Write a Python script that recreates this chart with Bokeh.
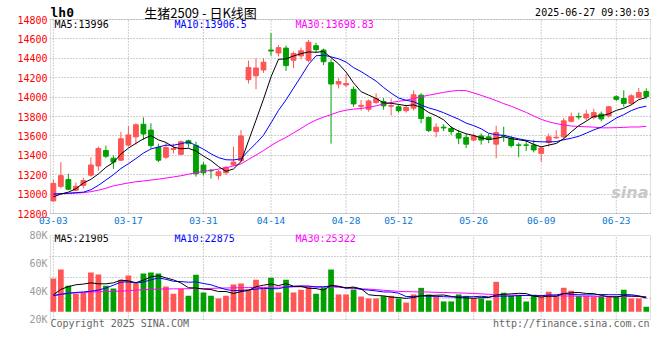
from bokeh.plotting import figure
from bokeh.layouts import column
from bokeh.models import Range1d, FixedTicker, Label, ColumnDataSource, BoxAnnotation
from bokeh.embed import file_html
from bokeh.resources import INLINE

DATES = ["03-03","03-04","03-05","03-06","03-07","03-10","03-11","03-12","03-13","03-14",
         "03-17","03-18","03-19","03-20","03-21","03-24","03-25","03-26","03-27","03-28",
         "03-31","04-01","04-02","04-03","04-07","04-08","04-09","04-10","04-11","04-14",
         "04-15","04-16","04-17","04-18","04-21","04-22","04-23","04-24","04-25","04-28",
         "04-29","04-30","05-06","05-07","05-08","05-09","05-12","05-13","05-14","05-15",
         "05-16","05-19","05-20","05-21","05-22","05-23","05-26","05-27","05-28","05-29",
         "05-30","06-03","06-04","06-05","06-06","06-09","06-10","06-11","06-12","06-13",
         "06-16","06-17","06-18","06-19","06-20","06-23","06-24","06-25","06-26","06-27"]

OPEN = [12930,13080,13150,13040,13090,13195,13290,13450,13370,13350,
        13505,13590,13720,13660,13480,13380,13460,13410,13550,13500,
        13300,13245,13190,13220,13300,13345,14180,14220,14280,14485,
        14455,14505,14380,14425,14380,14530,14485,14355,14135,14125,
        14080,13905,13875,13945,13955,13905,13900,13860,13886,14020,
        13790,13645,13690,13676,13625,13585,13557,13600,13590,13515,
        13605,13577,13507,13507,13505,13420,13532,13580,13590,13750,
        13800,13785,13790,13825,13807,14003,13985,13935,13996,14058]
HIGH = [13150,13330,13210,13120,13170,13380,13490,13500,13400,13640,
        13700,13730,13790,13730,13520,13530,13520,13550,13560,13540,
        13330,13260,13250,13290,13490,13660,14375,14400,14400,14660,
        14535,14530,14470,14510,14590,14560,14500,14390,14196,14235,
        14110,13970,13975,14040,13990,13985,13930,13920,14070,14040,
        13800,13730,13720,13700,13660,13620,13625,13625,13620,13705,
        13695,13600,13530,13560,13560,13495,13625,13660,13785,13840,
        13840,13870,13880,13850,13910,14020,14070,14030,14093,14090]
LOW = [12920,13060,13040,13030,13060,13180,13240,13370,13260,13340,
       13490,13510,13560,13470,13330,13360,13420,13400,13480,13180,
       13190,13160,13150,13200,13290,13330,14140,14080,14250,14425,
       14420,14270,14300,14390,14360,14460,14330,13520,14089,14105,
       13900,13860,13850,13930,13870,13810,13840,13840,13860,13730,
       13640,13585,13650,13610,13515,13475,13545,13510,13525,13370,
       13540,13480,13380,13445,13430,13335,13490,13570,13570,13740,
       13770,13760,13770,13750,13790,13960,13900,13920,13985,13985]
CLOSE = [13110,13190,13050,13080,13140,13300,13470,13390,13330,13570,
         13610,13715,13620,13500,13350,13480,13470,13540,13520,13210,
         13220,13240,13230,13275,13330,13600,14305,14300,14360,14475,
         14510,14325,14450,14478,14565,14490,14365,14135,14160,14140,
         13930,13915,13960,13985,13910,13912,13860,13893,14024,13780,
         13655,13690,13682,13645,13577,13515,13600,13557,13565,13635,
         13598,13500,13503,13503,13455,13475,13590,13586,13755,13797,
         13795,13825,13840,13775,13900,13977,13935,14013,14047,14006]

MA5 = [12972,13000,13020,13055,
       13114,13152,13208,13276,13326,13412,13474,13523,13569,13603,
       13559,13533,13484,13468,13472,13444,13392,13346,13284,13235,
       13259,13335,13548,13762,13979,14208,14390,14394,14424,14448,
       14466,14462,14470,14407,14343,14258,14146,14056,14021,13986,
       13940,13936,13925,13912,13920,13894,13842,13808,13766,13690,
       13650,13622,13604,13579,13563,13574,13591,13571,13560,13548,
       13512,13487,13505,13522,13572,13641,13705,13752,13802,13806,
       13827,13863,13885,13920,13974,13996]
MA10 = [13000,13005,13010,13015,13020,13045,13090,13145,13200,
        13263,13313,13366,13423,13465,13486,13504,13504,13519,13538,
        13502,13463,13415,13376,13354,13352,13364,13447,13523,13607,
        13734,13863,13971,14093,14213,14337,14426,14432,14415,14395,
        14362,14304,14263,14214,14165,14099,14041,13991,13967,13953,
        13917,13889,13867,13839,13805,13772,13732,13706,13673,13627,
        13612,13606,13587,13570,13555,13543,13539,13538,13541,13560,
        13576,13596,13628,13662,13689,13734,13784,13819,13861,13890,
        13906.5]
MA30 = [13000,13003,13006,13010,13015,13025,13040,13060,13085,13100,
        13115,13127,13135,13145,13154,13165,13177,13189,13205,13220,
        13235,13246,13257,13272,13290,13312,13357,13402,13449,
        13499,13546,13584,13631,13677,13725,13764,13794,13819,13847,
        13866,13876,13883,13894,13910,13929,13944,13957,13968,13985,
        14004,14019,14034,14049,14061,14069,14066,14043,14018,13992,
        13964,13933,13906,13874,13842,13805,13771,13745,13727,13713,
        13702,13697,13694,13690,13683,13683,13685,13688,13692,13692,
        13698.83]

VOLUME = [49300,55700,44100,38400,39100,53600,52100,44100,42100,48400,
          51400,45500,52900,53600,52900,43600,38400,41900,36900,51900,
          39300,36900,35000,36900,45000,45700,41200,48400,42100,49800,
          39300,48400,39300,41200,43400,38400,42900,55700,37900,37900,
          41400,36400,35000,35000,36700,36900,35000,32100,37900,42600,
          37900,36200,32900,32900,37900,36900,35300,35000,33600,46900,
          39100,36900,36900,32900,37600,36000,39800,36700,42600,40500,
          36700,36700,36000,36000,36000,36000,41200,35000,35000,29100]
VOL_MA5 = [37600,41500,43500,44800,
           45300,46200,45500,45500,46200,48100,47600,46300,48100,50400,
           51300,49700,48300,46100,42700,42500,41700,41400,40000,40000,
           38600,39900,40800,43400,44500,45400,44200,45600,43800,43600,
           42300,42100,41000,44300,43700,42600,43200,41900,37700,37100,
           36900,36000,35700,35100,35700,36900,37100,37300,37500,36500,
           35600,35400,35200,35600,35700,37500,38000,38300,38700,38500,
           36700,36100,36600,36600,38500,39100,39300,38600,38500,37200,
           36300,36100,37000,36800,36600,35300]
VOL_MA10 = [37000,38000,38800,39300,39700,40200,41000,42500,44500,
            46700,46900,45900,46800,48300,49700,48700,47300,47100,46600,
            46900,45700,44800,43000,41400,40600,40800,41100,41700,42200,
            42000,42000,43200,43600,44000,43900,43200,43300,44100,43600,
            42400,42700,41500,41000,40400,39700,39600,38800,36400,36400,
            36900,36600,36500,36300,36100,36200,36200,36300,36600,36100,
            36600,36700,36700,37100,37100,37100,37000,37500,37600,38500,
            37900,37700,37600,37600,37900,37700,37700,37800,37700,36900,
            35800]
VOL_MA30 = [37100,38000,38600,39000,39300,39600,39800,40000,40200,40300,
            40500,40900,41300,41600,41700,41800,41900,41900,42000,42100,
            42100,42200,42400,42500,42600,42700,42800,42800,42900,43000,
            43100,43200,43300,43400,43400,43400,43400,43300,43000,42600,
            42100,41900,41700,41300,40900,40500,40100,39900,39800,39700,
            39600,39400,39300,39100,39000,38800,38600,38300,38000,37700,
            37500,37400,37300,37200,37100,37000,36900,36900,36800,36700,
            36700,36600,36500,36400,36400,36400,36400,36400,36400,36400]

TICK_DATES = ["03-03","03-17","03-31","04-14","04-28","05-12","05-26","06-09","06-23"]
PRICE_TICKS = [12800,13000,13200,13400,13600,13800,14000,14200,14400,14600,14800]
VOL_TICKS = [20000,40000,60000,80000]
VOL_TICK_LABELS = ["20K","40K","60K","80K"]
VOL_LEGEND = ["MA5:21905", "MA10:22875", "MA30:25322"]

RED = "#ff5555"
GREEN = "#00a000"
GRID = "#a0a0a0"
BORDER = "#999999"
MONO = "DejaVu Sans Mono"

n = len(DATES)
xs = list(range(n))
colors = [RED if c >= o else GREEN for o, c in zip(OPEN, CLOSE)]
src = ColumnDataSource(dict(
    x=xs, high=HIGH, low=LOW,
    top=[max(o, c) for o, c in zip(OPEN, CLOSE)],
    bottom=[min(o, c) for o, c in zip(OPEN, CLOSE)],
    color=colors, vol=VOLUME, ma5=MA5, ma10=MA10, ma30=MA30,
    vma5=VOL_MA5, vma10=VOL_MA10, vma30=VOL_MA30))
tick_idx = [DATES.index(d) for d in TICK_DATES]

# ---- layout geometry (pixels) ----
W = 658
PANEL_W = 600                      # width of each boxed panel
X_LEFT, X_RIGHT = -0.38, n - 1 + 0.56
DX = (X_RIGHT - X_LEFT) / PANEL_W  # data units per pixel
# frames are 1 px larger than the boxed panels so that the box lines are not clipped
xr = Range1d(X_LEFT - DX, X_RIGHT + DX)
LEFT, RIGHT = 49, W - 49 - PANEL_W - 2

PRICE_PX = 194                     # box height of price panel
DP = (PRICE_TICKS[-1] - PRICE_TICKS[0]) / PRICE_PX
P1_FRAME = 214                     # frame: 19 px header above the box, 1 px below
p1_range = Range1d(PRICE_TICKS[0] - DP, PRICE_TICKS[0] - DP + P1_FRAME * DP)

VOL_PX = 84
DV = (VOL_TICKS[-1] - VOL_TICKS[0]) / VOL_PX
P2_FRAME = 106                     # 1 px above the box, footer below it
p2_range = Range1d(VOL_TICKS[-1] + DV - P2_FRAME * DV, VOL_TICKS[-1] + DV)


def style_common(p):
    p.outline_line_color = None
    p.background_fill_color = "white"
    p.border_fill_color = "white"
    p.xgrid.visible = False
    p.ygrid.grid_line_color = GRID
    p.ygrid.grid_line_dash = "1 2"
    p.ygrid.grid_line_width = 1
    for ax in (p.xaxis, p.yaxis):
        ax.axis_line_color = None
        ax.major_tick_line_color = None
        ax.minor_tick_line_color = None
        ax.major_tick_out = 0
        ax.major_tick_in = 0
        ax.minor_tick_out = 0
        ax.minor_tick_in = 0
        ax.major_label_text_font = MONO
        ax.major_label_text_font_size = "10px"


def add_text(p, text, x, y, color, size="10px", font=MONO, align="left", style="normal"):
    p.add_layout(Label(x=x, y=y, x_units="screen", y_units="screen", text=text,
                       text_color=color, text_font=font, text_font_size=size,
                       text_align=align, text_baseline="middle", text_font_style=style))


def add_box(p, lo, hi):
    p.add_layout(BoxAnnotation(left=X_LEFT, right=X_RIGHT, bottom=lo, top=hi,
                               fill_color=None, line_color=BORDER, line_width=1))


# ---------------- price panel ----------------
p1 = figure(width=W, height=P1_FRAME + 14, x_range=xr, y_range=p1_range,
            title=None, output_backend="svg", toolbar_location=None,
            min_border_left=LEFT, min_border_right=RIGHT, min_border_top=0, min_border_bottom=14)
style_common(p1)
p1.ygrid.ticker = FixedTicker(ticks=PRICE_TICKS)
p1.yaxis.ticker = FixedTicker(ticks=PRICE_TICKS)
p1.yaxis.major_label_text_color = "#ff0000"
p1.yaxis.major_label_standoff = 2
p1.xaxis.ticker = FixedTicker(ticks=tick_idx)
p1.xaxis.major_label_overrides = {i: d for i, d in zip(tick_idx, TICK_DATES)}
p1.xaxis.major_label_text_color = "#0a78d2"
p1.xaxis.major_label_text_font_size = "9.5px"
p1.xaxis.major_label_standoff = 2

p1.segment(x0=tick_idx, y0=PRICE_TICKS[0], x1=tick_idx, y1=PRICE_TICKS[-1],
           line_color=GRID, line_dash="1 2", line_width=1)
p1.segment(x0="x", y0="high", x1="x", y1="low", line_color="color", line_width=1, source=src)
p1.vbar(x="x", width=0.64, top="top", bottom="bottom", fill_color="color",
        line_color="color", line_width=1, source=src)
p1.line("x", "ma30", line_color="#ff00ff", line_width=1, source=src)
p1.line("x", "ma10", line_color="#0000ff", line_width=1, source=src)
p1.line("x", "ma5", line_color="#000000", line_width=1, source=src)
add_box(p1, PRICE_TICKS[0], PRICE_TICKS[-1])

add_text(p1, "lh0", 1, 202.5, "#000000", size="13px", style="bold")
add_text(p1, "生猪2509 - 日K线图", 151, 202.5, "#000000", size="13px",
         font="Noto Sans CJK SC", align="center")
add_text(p1, "2025-06-27 09:30:03", 600, 202, "#000000", align="right")
add_text(p1, f"MA5:{MA5[-1]}", 5, 190, "#000000")
add_text(p1, f"MA10:{MA10[-1]}", 125, 190, "#0000ff")
add_text(p1, f"MA30:{MA30[-1]}", 246, 190, "#ff00ff")
add_text(p1, "sina", 599, 22, "#c8c8c8", size="16px", font="DejaVu Sans",
         align="right", style="bold italic")

# ---------------- volume panel ----------------
p2 = figure(width=W, height=P2_FRAME + 6, x_range=xr, y_range=p2_range,
            title=None, output_backend="svg", toolbar_location=None,
            min_border_left=LEFT, min_border_right=RIGHT, min_border_top=6, min_border_bottom=0)
style_common(p2)
p2.xaxis.visible = False
p2.ygrid.ticker = FixedTicker(ticks=[35000, 50000, 65000])
p2.yaxis.ticker = FixedTicker(ticks=VOL_TICKS)
p2.yaxis.major_label_overrides = {v: t for v, t in zip(VOL_TICKS, VOL_TICK_LABELS)}
p2.yaxis.major_label_text_color = "#999999"
p2.yaxis.major_label_standoff = 2

p2.segment(x0=tick_idx, y0=VOL_TICKS[0], x1=tick_idx, y1=VOL_TICKS[-1],
           line_color=GRID, line_dash="1 2", line_width=1)
p2.vbar(x="x", width=0.76, top="vol", bottom=25500, fill_color="color",
        line_color=None, source=src)
p2.line("x", "vma30", line_color="#ff00ff", line_width=1, source=src)
p2.line("x", "vma10", line_color="#0000ff", line_width=1, source=src)
p2.line("x", "vma5", line_color="#000000", line_width=1, source=src)
add_box(p2, VOL_TICKS[0], VOL_TICKS[-1])

add_text(p2, VOL_LEGEND[0], 5, 102, "#000000")
add_text(p2, VOL_LEGEND[1], 125, 102, "#0000ff")
add_text(p2, VOL_LEGEND[2], 246, 102, "#ff00ff")
add_text(p2, "Copyright 2025 SINA.COM", 1, 17, "#666666")
add_text(p2, "http://finance.sina.com.cn", 600, 17, "#666666", align="right")

layout = column(p1, p2, spacing=0)
open("out.html", "w").write(file_html(layout, INLINE))
